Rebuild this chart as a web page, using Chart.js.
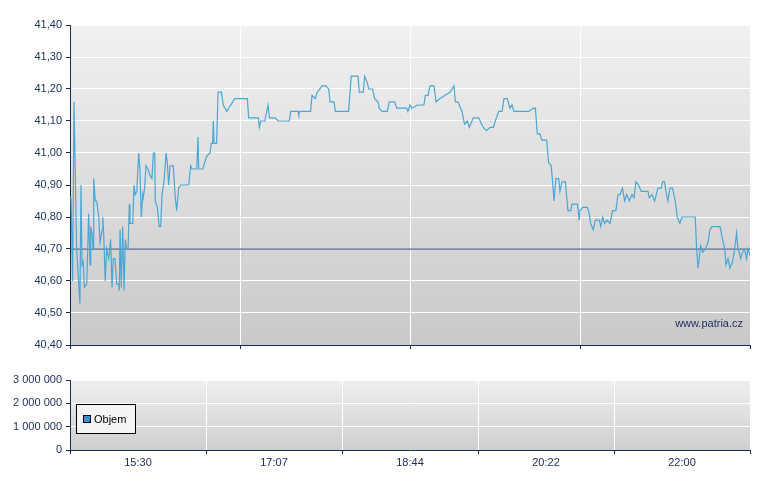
<!DOCTYPE html>
<html><head><meta charset="utf-8">
<script src="https://cdn.jsdelivr.net/npm/chart.js@4"></script>
<style>body{margin:0;background:#fff;width:780px;height:490px;overflow:hidden}</style>
</head><body>
<div style="position:absolute;left:0;top:0;width:780px;height:360px"><canvas id="c1"></canvas></div>
<div style="position:absolute;left:0;top:360px;width:780px;height:130px"><canvas id="c2"></canvas></div>
<script>
// minutes after 15:30
const minutes=[0,0.6,1.5,2.3,3.8,5.7,6.3,6.9,7.6,8.2,9.6,10.7,11.5,11.9,12.6,13.2,13.6,14.5,15.3,16.5,17.2,18.4,18.8,19.3,20.2,21.0,22.2,23.3,24.1,24.8,25.8,26.8,27.9,28.3,28.7,29.4,30.2,31.0,31.7,32.5,33.3,34.0,34.4,36.0,36.7,37.4,38.3,39.4,40.1,40.9,41.7,42.0,42.8,43.6,44.7,45.9,47.0,47.8,48.6,48.9,50.1,51.2,52.0,52.8,53.9,55.1,55.8,56.6,57.4,59.2,60.4,61.2,62.3,63.5,68.1,69.2,70.0,72.7,73.4,73.8,76.1,78.4,80.3,81.0,81.8,82.2,82.6,84.1,84.9,86.8,87.9,89.9,
94.5,101.7,102.5,108.0,108.6,109.4,111.7,113.6,114.4,117.6,119.5,125.8,126.6,130.8,131.2,131.9,138.0,138.8,140.7,141.8,143.4,144.5,146.8,148.4,149.1,151.4,152.2,159.8,161.3,165.2,165.9,168.2,169.0,170.5,171.3,173.6,174.7,176.6,177.4,178.9,182.0,183.1,186.2,187.4,193.1,193.8,195.0,196.1,199.2,203.0,203.8,205.3,206.5,208.8,209.9,212.2,217.9,219.1,220.2,221.0,222.5,224.8,226.3,227.9,229.0,231.3,234.4,237.0,238.9,240.9,242.8,243.9,245.9,247.8,248.9,250.8,252.3,253.5,254.6,263.1,265.7,266.9,268.0,
269.5,270.7,273.4,274.5,276.0,277.2,277.6,278.7,280.3,281.0,282.2,284.1,284.9,285.6,287.2,287.9,291.0,292.1,292.5,294.0,296.7,297.8,298.6,300.1,301.3,303.6,304.4,305.5,306.6,308.1,309.7,311.2,313.1,314.3,315.4,316.9,318.1,319.3,320.8,322.3,323.5,324.6,326.1,327.6,331.5,332.2,333.8,335.3,337.2,339.1,339.9,341.0,341.8,342.9,344.1,345.6,347.1,348.3,349.8,351.0,352.9,358.6,359.4,360.2,361.7,362.9,364.4,365.9,367.0,368.2,372.8,373.9,375.5,376.2,377.4,378.5,380.0,381.2,382.3,383.1,383.8,384.6,385.7,386.9,388.0,388.8,390];
const prices=[40.86,40.86,40.60,41.16,40.70,40.53,40.90,40.65,40.66,40.58,40.59,40.81,40.65,40.77,40.75,40.70,40.92,40.85,40.85,40.80,40.72,40.76,40.80,40.75,40.60,40.70,40.67,40.73,40.58,40.67,40.67,40.59,40.59,40.57,40.76,40.58,40.77,40.57,40.73,40.70,40.70,40.84,40.78,40.78,40.90,40.87,40.88,41.00,40.95,40.80,40.87,40.86,40.89,40.96,40.95,40.93,40.92,41.00,41.00,40.85,40.83,40.77,40.77,40.87,40.91,41.00,40.97,40.90,40.96,40.96,40.86,40.82,40.89,40.90,40.90,40.96,40.95,40.95,41.05,40.95,40.95,40.99,41.00,41.03,41.03,41.10,41.03,41.03,41.19,41.19,41.15,41.13,
41.17,41.17,41.11,41.11,41.08,41.10,41.10,41.15,41.11,41.11,41.10,41.10,41.13,41.13,41.12,41.13,41.13,41.18,41.17,41.19,41.20,41.21,41.21,41.20,41.16,41.16,41.13,41.13,41.24,41.24,41.19,41.19,41.24,41.22,41.20,41.20,41.17,41.16,41.14,41.13,41.13,41.16,41.16,41.14,41.14,41.13,41.15,41.14,41.15,41.15,41.18,41.18,41.21,41.21,41.16,41.17,41.19,41.20,41.21,41.16,41.16,41.13,41.09,41.10,41.08,41.11,41.11,41.08,41.07,41.08,41.08,41.10,41.13,41.13,41.17,41.17,41.14,41.15,41.13,41.13,41.14,41.14,41.06,
41.06,41.04,41.04,40.97,40.96,40.88,40.85,40.92,40.92,40.88,40.91,40.91,40.86,40.82,40.82,40.84,40.84,40.79,40.82,40.83,40.83,40.81,40.78,40.76,40.79,40.79,40.77,40.80,40.78,40.79,40.78,40.82,40.82,40.87,40.87,40.89,40.85,40.87,40.85,40.87,40.86,40.91,40.90,40.88,40.88,40.86,40.87,40.85,40.89,40.89,40.91,40.91,40.88,40.85,40.89,40.89,40.85,40.80,40.78,40.80,40.80,40.80,40.70,40.64,40.71,40.69,40.70,40.72,40.76,40.77,40.77,40.74,40.70,40.65,40.67,40.64,40.66,40.70,40.75,40.70,40.69,40.67,40.69,40.70,40.67,40.70,40.68];
const referencePrice=40.70;
const timeLabels=['15:30','17:07','18:44','20:22','22:00'];
const volumeMinutes=[0,390];
const volumes=[0,0];

const NAVY='#1b2a5c';
const FONT={family:'Liberation Sans, Arial, sans-serif',size:11};
const bgPlugin={id:'bg',beforeDraw(ch,a,o){const {ctx,chartArea:c}=ch;const g=ctx.createLinearGradient(0,c.top,0,c.bottom);g.addColorStop(0,o.top);g.addColorStop(1,o.bottom);ctx.save();ctx.fillStyle=g;ctx.fillRect(c.left,c.top,c.right-c.left,c.bottom-c.top);ctx.restore();}};
function xScale(showLabels,h){return {type:'linear',min:0,max:390,afterBuildTicks(s){s.ticks=[0,97.5,195,292.5,390].map(v=>({value:v}));},
 afterFit(s){s.height=h;},
 ticks:{display:showLabels,color:NAVY,font:FONT,maxRotation:0,padding:2,callback:(v,i)=>timeLabels[i]},
 grid:{color:'#ffffff',lineWidth:1,tickColor:NAVY,tickLength:4,drawTicks:true},border:{color:NAVY,width:1}};}
new Chart(document.getElementById('c1'),{type:'line',
 data:{datasets:[
  {data:minutes.map((m,i)=>({x:m,y:prices[i]})),borderColor:'#4ba6d4',borderWidth:1.2,pointRadius:0,tension:0},
  {data:[{x:0,y:referencePrice},{x:390,y:referencePrice}],borderColor:'#2d3f6e',borderWidth:1,pointRadius:0}]},
 options:{animation:false,responsive:true,maintainAspectRatio:false,layout:{padding:{top:25,right:30,left:0,bottom:0}},
  plugins:{legend:{display:false},tooltip:{enabled:false},bg:{top:'#f1f1f1',bottom:'#c9c9c9'}},
  scales:{x:xScale(false,15),
   y:{min:40.4,max:41.4,afterFit(s){s.width=70;},ticks:{stepSize:0.1,color:NAVY,font:FONT,padding:4,callback:v=>v.toFixed(2).replace('.',',')},
    grid:{color:'#ffffff',tickColor:NAVY,tickLength:4},border:{color:NAVY}}}},
 plugins:[bgPlugin,{id:'wm',afterDraw(ch){const c=ch.ctx,a=ch.chartArea;c.save();c.fillStyle=NAVY;c.font='11px Liberation Sans, Arial';c.textAlign='right';c.fillText('www.patria.cz',a.right-7,a.bottom-18);c.restore();}}]});
new Chart(document.getElementById('c2'),{type:'bar',
 data:{datasets:[{label:'Objem',data:volumeMinutes.map((m,i)=>({x:m,y:volumes[i]})),backgroundColor:'#3b8fc8'}]},
 options:{animation:false,responsive:true,maintainAspectRatio:false,layout:{padding:{top:20,right:30,left:0,bottom:0}},
  plugins:{legend:{display:false},tooltip:{enabled:false},bg:{top:'#efefef',bottom:'#cfcfcf'}},
  scales:{x:xScale(true,40),
   y:{min:0,max:3000000,afterFit(s){s.width=70;},ticks:{stepSize:1000000,color:NAVY,font:FONT,padding:4,callback:v=>String(v).replace(/\B(?=(\d{3})+(?!\d))/g,' ')},
    grid:{color:'#ffffff',tickColor:NAVY,tickLength:4},border:{color:NAVY}}}},
 plugins:[bgPlugin,{id:'lg',afterDraw(ch){const c=ch.ctx,a=ch.chartArea,ds=ch.data.datasets[0];c.save();
  const x=a.left+6,y=a.top+24,w=59,h=29;c.fillStyle='#f4f4f4';c.fillRect(x,y,w,h);c.strokeStyle='#000';c.lineWidth=1;c.strokeRect(x+0.5,y+0.5,w,h);
  c.fillStyle=ds.backgroundColor;c.fillRect(x+7,y+11,8,8);c.strokeStyle='#000';c.strokeRect(x+7.5,y+11.5,7,7);
  c.fillStyle='#000';c.font='11px Liberation Sans, Arial';c.textBaseline='middle';c.fillText(ds.label,x+18,y+15.5);c.restore();}}]});
</script></body></html>
